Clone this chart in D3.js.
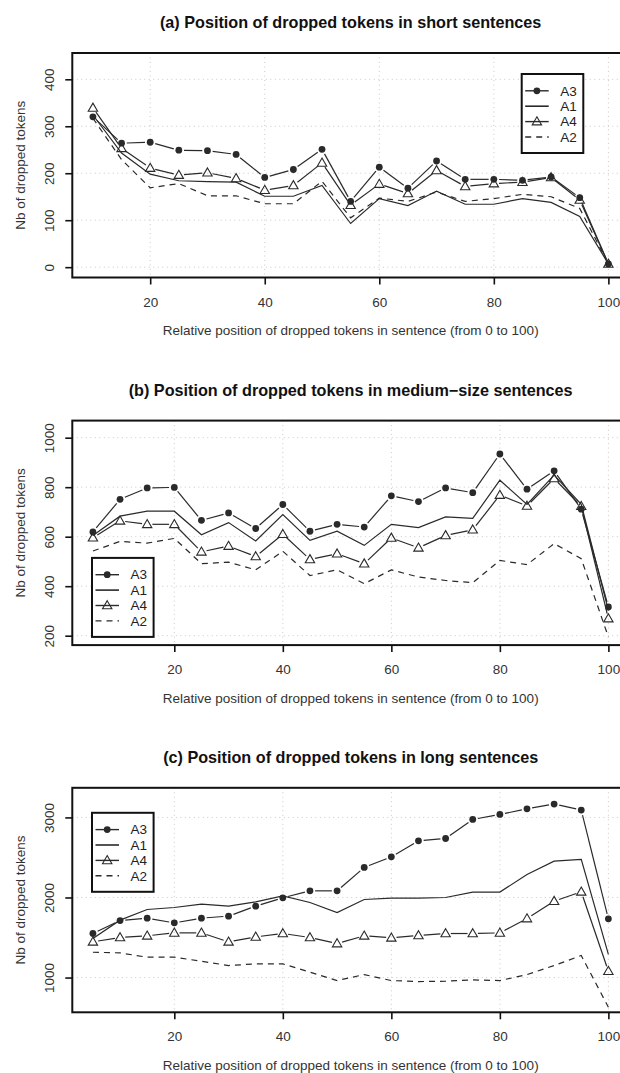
<!DOCTYPE html>
<html>
<head>
<meta charset="utf-8">
<script src="https://cdn.jsdelivr.net/npm/d3@7"></script>
<style>
  body { margin: 0; background: #fff; }
  text { font-family: "Liberation Sans", Arial, Helvetica, sans-serif; }
</style>
</head>
<body>
<svg id="chart" width="620" height="1073"></svg>
<script>
// x positions (relative position in sentence)
const shortPos = [10, 15, 20, 25, 30, 35, 40, 45, 50, 55, 60, 65, 70, 75, 80, 85, 90, 95, 100];
const longPos = [5, 10, 15, 20, 25, 30, 35, 40, 45, 50, 55, 60, 65, 70, 75, 80, 85, 90, 95, 100];

// (a) short sentences
const shortA3 = [320, 264, 266, 249, 248, 240, 191, 208, 251, 140, 213, 168, 226, 187, 187, 185, 192, 148, 7];
const shortA1 = [324, 243, 198, 184, 182, 181, 151, 151, 174, 93, 146, 131, 162, 134, 134, 146, 138, 108, 7];
const shortA4 = [339, 253, 211, 196, 201, 189, 164, 174, 222, 132, 177, 157, 206, 172, 178, 181, 191, 143, 7];
const shortA2 = [317, 229, 169, 178, 152, 152, 135, 135, 183, 105, 147, 140, 160, 140, 146, 155, 150, 125, 7];

// (b) medium-size sentences
const mediumA3 = [619, 751, 797, 799, 666, 696, 633, 730, 622, 650, 639, 765, 742, 797, 778, 934, 792, 866, 711, 316];
const mediumA1 = [605, 683, 703, 703, 608, 657, 583, 689, 585, 622, 565, 650, 637, 680, 674, 828, 730, 849, 731, 302];
const mediumA4 = [596, 664, 650, 650, 539, 562, 520, 610, 508, 531, 491, 595, 555, 605, 628, 768, 724, 835, 723, 269];
const mediumA2 = [542, 581, 574, 593, 491, 497, 466, 541, 443, 466, 410, 466, 437, 423, 414, 504, 487, 572, 511, 195];

// (c) long sentences
const longA3 = [1550, 1712, 1742, 1683, 1742, 1767, 1892, 1996, 2083, 2083, 2375, 2508, 2708, 2737, 2975, 3037, 3108, 3167, 3092, 1733];
const longA1 = [1488, 1717, 1850, 1875, 1917, 1892, 1946, 2021, 1937, 1812, 1975, 1992, 1992, 2000, 2067, 2067, 2287, 2454, 2475, 1290];
const longA4 = [1446, 1500, 1521, 1558, 1558, 1446, 1508, 1550, 1500, 1425, 1521, 1496, 1525, 1550, 1550, 1558, 1737, 1954, 2071, 1080];
const longA2 = [1316, 1308, 1254, 1254, 1204, 1150, 1171, 1171, 1067, 962, 1037, 962, 950, 954, 971, 962, 1037, 1150, 1275, 629];

// ticks
const xTicks = [20, 40, 60, 80, 100];
const yTicksShort = [0, 100, 200, 300, 400];
const yTicksMedium = [200, 400, 600, 800, 1000];
const yTicksLong = [1000, 2000, 3000];

const legendNames = ["A3", "A1", "A4", "A2"];
const xLabel = "Relative position of dropped tokens in sentence (from 0 to 100)";
const yLabel = "Nb of dropped tokens";

const svg = d3.select("#chart");
const boxLeft = 72.3, boxRight = 629, boxH = 224.5;
const ink = "#2a2a2a";
const gap = 5.2;

const panels = [
  {
    title: "(a) Position of dropped tokens in short sentences",
    top: 53, pos: shortPos, xDomain: [6.4, 103.6], yDomain: [-22, 456], yTicks: yTicksShort,
    values: [shortA3, shortA1, shortA4, shortA2],
    legend: { x: 521.7, y: 21 }
  },
  {
    title: "(b) Position of dropped tokens in medium\u2212size sentences",
    top: 420.6, pos: longPos, xDomain: [1.2, 103.8], yDomain: [162, 1069], yTicks: yTicksMedium,
    values: [mediumA3, mediumA1, mediumA4, mediumA2],
    legend: { x: 92, y: 137.3 }
  },
  {
    title: "(c) Position of dropped tokens in long sentences",
    top: 787.8, pos: longPos, xDomain: [1.2, 103.8], yDomain: [566, 3370], yTicks: yTicksLong,
    values: [longA3, longA1, longA4, longA2],
    legend: { x: 92, y: 25 }
  }
];

// A3: points + broken line, A1: solid, A4: triangles + broken line, A2: dashed
const kinds = ["circle", "solid", "triangle", "dashed"];

function drawMarker(g, kind, cx, cy) {
  if (kind === "circle") {
    g.append("circle").attr("cx", cx).attr("cy", cy).attr("r", 3.4).attr("fill", ink);
  } else if (kind === "triangle") {
    g.append("path")
      .attr("d", d3.symbol().type(d3.symbolTriangle).size(38)())
      .attr("transform", `translate(${cx},${cy + 0.6})`)
      .attr("fill", "none").attr("stroke", ink).attr("stroke-width", 1.1);
  }
}

function drawPanel(p) {
  const g = svg.append("g").attr("transform", `translate(0,${p.top})`);
  const x = d3.scaleLinear().domain(p.xDomain).range([boxLeft, boxRight]);
  const y = d3.scaleLinear().domain(p.yDomain).range([boxH, 0]);

  // title
  g.append("text")
    .attr("x", (boxLeft + boxRight) / 2).attr("y", -25)
    .attr("text-anchor", "middle")
    .attr("font-size", 16.2).attr("font-weight", "bold").attr("fill", "#111")
    .text(p.title);

  // grid
  const grid = g.append("g").attr("class", "grid");
  grid.selectAll("line.gx").data(xTicks).enter().append("line")
    .attr("x1", d => x(d)).attr("x2", d => x(d)).attr("y1", 0).attr("y2", boxH);
  grid.selectAll("line.gy").data(p.yTicks).enter().append("line")
    .attr("x1", boxLeft).attr("x2", boxRight).attr("y1", d => y(d)).attr("y2", d => y(d));
  grid.selectAll("line").attr("stroke", "#c8c8c8").attr("stroke-width", 1).attr("stroke-dasharray", "1,3.5");

  // series
  p.values.forEach((vals, si) => {
    const kind = kinds[si];
    const pts = p.pos.map((v, i) => [x(v), y(vals[i])]);
    if (kind === "solid" || kind === "dashed") {
      g.append("path")
        .attr("d", d3.line()(pts))
        .attr("fill", "none").attr("stroke", ink).attr("stroke-width", 1.2)
        .attr("stroke-dasharray", kind === "dashed" ? "6,5" : null);
    } else {
      d3.pairs(pts).forEach(([a, b]) => {
        const dx = b[0] - a[0], dy = b[1] - a[1];
        const len = Math.hypot(dx, dy);
        if (len <= 2 * gap) return;
        const ux = dx / len, uy = dy / len;
        g.append("line")
          .attr("x1", a[0] + ux * gap).attr("y1", a[1] + uy * gap)
          .attr("x2", b[0] - ux * gap).attr("y2", b[1] - uy * gap)
          .attr("stroke", ink).attr("stroke-width", 1.2);
      });
      pts.forEach(pt => drawMarker(g, kind, pt[0], pt[1]));
    }
  });

  // plot box
  g.append("rect")
    .attr("x", boxLeft).attr("y", 0).attr("width", boxRight - boxLeft).attr("height", boxH)
    .attr("fill", "none").attr("stroke", "#111").attr("stroke-width", 2);

  // x axis
  const xa = g.append("g").attr("transform", `translate(0,${boxH})`)
    .call(d3.axisBottom(x).tickValues(xTicks).tickSize(7).tickFormat(d3.format("d")));
  xa.select(".domain").remove();
  xa.selectAll(".tick line").attr("stroke", "#111").attr("stroke-width", 1.6);
  xa.selectAll(".tick text").attr("y", 29).attr("dy", null)
    .attr("font-size", 13.5).attr("fill", "#333");

  // y axis, labels parallel to axis
  const ya = g.append("g").attr("transform", `translate(${boxLeft},0)`)
    .call(d3.axisLeft(y).tickValues(p.yTicks).tickSize(7).tickFormat(d3.format("d")));
  ya.select(".domain").remove();
  ya.selectAll(".tick line").attr("stroke", "#111").attr("stroke-width", 1.6);
  ya.selectAll(".tick text")
    .attr("x", 0).attr("y", 0).attr("dy", null)
    .attr("text-anchor", "middle")
    .attr("transform", `translate(${54 - boxLeft},0) rotate(-90)`)
    .attr("font-size", 13.5).attr("fill", "#333");

  // axis labels
  g.append("text")
    .attr("x", (boxLeft + boxRight) / 2).attr("y", boxH + 57.5)
    .attr("text-anchor", "middle").attr("font-size", 13.5).attr("fill", "#333")
    .text(xLabel);
  g.append("text")
    .attr("transform", `translate(24.5,${boxH / 2}) rotate(-90)`)
    .attr("text-anchor", "middle").attr("font-size", 13.5).attr("fill", "#333")
    .text(yLabel);

  // legend
  const lg = g.append("g").attr("transform", `translate(${p.legend.x},${p.legend.y})`);
  lg.append("rect").attr("width", 61.6).attr("height", 79)
    .attr("fill", "#fff").attr("stroke", "#111").attr("stroke-width", 2);
  legendNames.forEach((name, i) => {
    const ly = 16.8 + i * 15.4;
    const kind = kinds[i];
    lg.append("line")
      .attr("x1", 3.5).attr("x2", 27).attr("y1", ly).attr("y2", ly)
      .attr("stroke", ink).attr("stroke-width", kind === "solid" ? 1.6 : 1.4)
      .attr("stroke-dasharray", kind === "dashed" ? "6,5" : null);
    drawMarker(lg, kind, 15.2, ly);
    lg.append("text").attr("x", 38.5).attr("y", ly + 4.8)
      .attr("font-size", 13.5).attr("fill", "#222").text(name);
  });
}

panels.forEach(drawPanel);
</script>
</body>
</html>
